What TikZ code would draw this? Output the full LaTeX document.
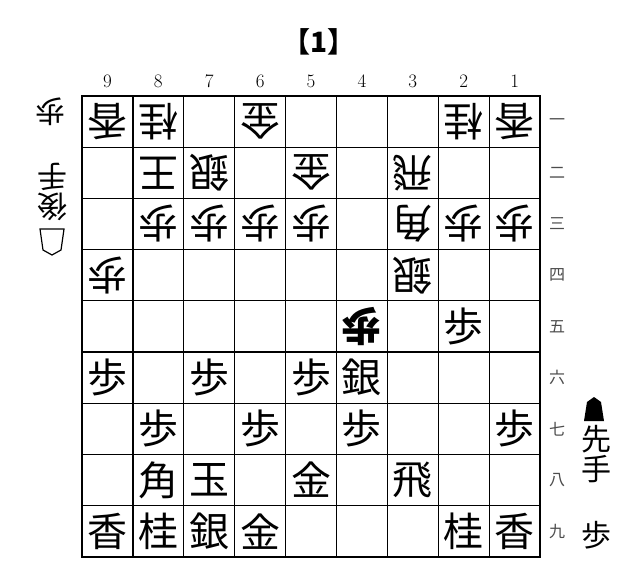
\documentclass[tikz,border=0pt]{standalone}
\usepackage{fontspec}
\newfontfamily\jp{Noto Sans CJK JP}
\usetikzlibrary{positioning}

\begin{document}
\begin{tikzpicture}[x=1pt,y=-1pt]
\tikzstyle{sente} = [inner sep=0pt,font=\jp\fontsize{40}{40}\selectfont]
\tikzstyle{gote} = [sente,rotate=180]
\tikzstyle{colnum} = [inner sep=0pt,font=\fontsize{19}{19}\selectfont]
\tikzstyle{rownum} = [inner sep=0pt,text=black!70,font=\jp\fontsize{16}{16}\selectfont]
\tikzstyle{hand} = [inner sep=0pt,font=\jp\fontsize{30}{30}\selectfont]
\useasboundingbox (0,0) rectangle (639,586);

    % title
    \node[inner sep=0pt,font=\jp\bfseries\fontsize{28}{28}\selectfont] (title) at (319,42) {【1】};

    % board
    \foreach \i in {1,...,8} {
        \draw[line width=1.3pt] ({82+\i*50.9},96) -- ({82+\i*50.9},557);
        \draw[line width=1.3pt] (82,{96+\i*51.2}) -- (540,{96+\i*51.2});
    }
    \draw[line width=2.4pt] (82,96) rectangle (540,557);

    % coordinates
    \foreach \c in {1,...,9}
        \node[colnum] (col\c) at ({82+(9.5-\c)*50.9},81) {\c};
    \foreach \r/\k in {1/一,2/二,3/三,4/四,5/五,6/六,7/七,8/八,9/九}
        \node[rownum] (row\r) at (557,{96+(\r-0.5)*51.2}) {\k};

    % gote pieces
    \foreach \c/\r/\p in {9/1/香,8/1/桂,6/1/金,2/1/桂,1/1/香,
                          8/2/王,7/2/銀,5/2/金,3/2/飛,
                          8/3/歩,7/3/歩,6/3/歩,5/3/歩,3/3/角,2/3/歩,1/3/歩,
                          9/4/歩,3/4/銀}
        \node[gote] (g\c\r) at ({82+(9.5-\c)*50.9},{96+(\r-0.5)*51.2}) {\p};
    \node[gote,font=\jp\bfseries\fontsize{40}{40}\selectfont] (g45) at ({82+5.5*50.9},{96+4.5*51.2}) {歩};

    % sente pieces
    \foreach \c/\r/\p in {2/5/歩,
                          9/6/歩,7/6/歩,5/6/歩,4/6/銀,
                          8/7/歩,6/7/歩,4/7/歩,1/7/歩,
                          8/8/角,7/8/玉,5/8/金,3/8/飛,
                          9/9/香,8/9/桂,7/9/銀,6/9/金,2/9/桂,1/9/香}
        \node[sente] (s\c\r) at ({82+(9.5-\c)*50.9},{96+(\r-0.5)*51.2}) {\p};

    % gote hand
    \node[hand,rotate=180] (gfu) at (50,112) {歩};
    \node[hand,rotate=180] (gte) at (52,177) {手};
    \node[hand,rotate=180] (gsen) at (52,207) {後};
    \draw[line width=1.2pt] (40,229) -- (64,229) -- (61,250) -- (52,255) -- (43,250) -- cycle;

    % sente hand
    \fill (584,421) -- (587,402) -- (594,397) -- (601,402) -- (604,421) -- cycle;
    \node[hand] (ssen) at (596,439) {先};
    \node[hand,below=2pt of ssen] (ste) {手};
    \node[hand] (sfu) at (596,535) {歩};
\end{tikzpicture}
\end{document}
